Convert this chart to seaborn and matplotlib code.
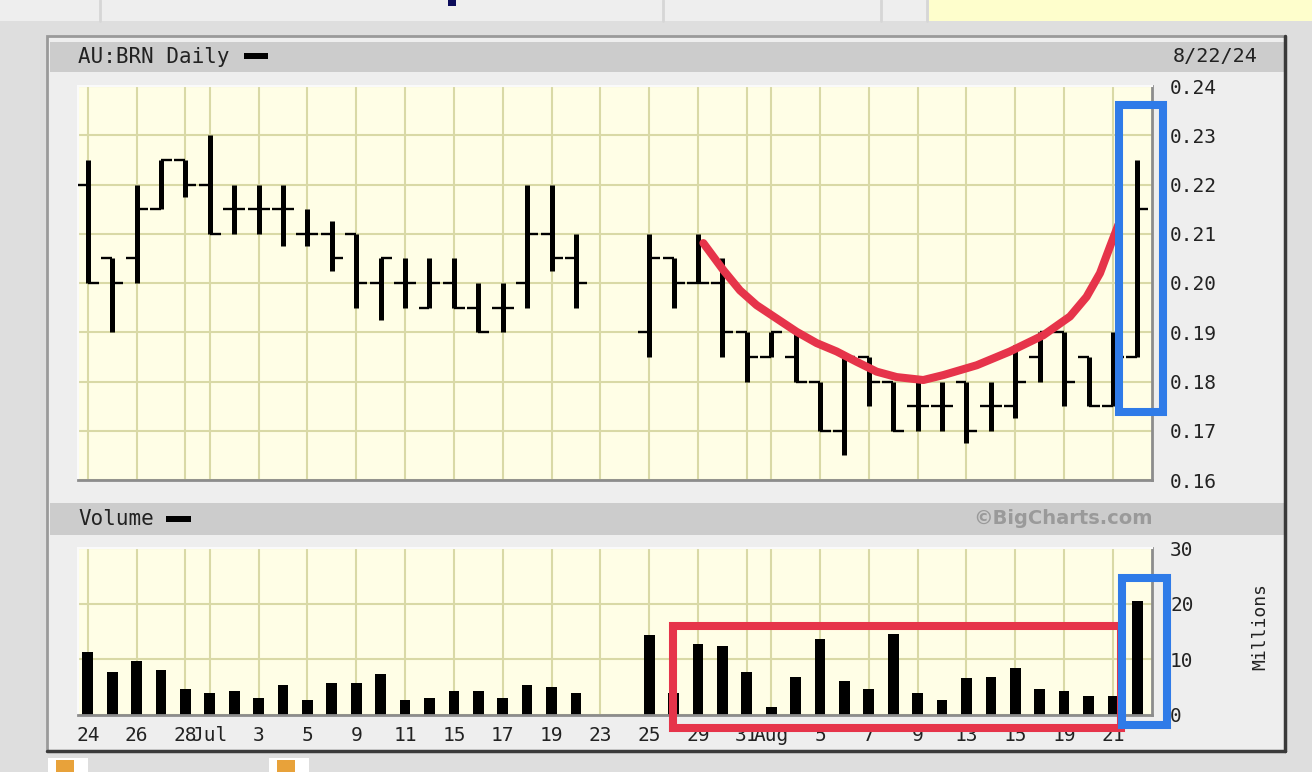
import numpy as np
import pandas as pd
import matplotlib
matplotlib.use("Agg")
import matplotlib.pyplot as plt
from matplotlib.patches import Rectangle
import seaborn as sns

# ============================
# Data (AU:BRN daily, 24 Jun - 22 Aug 2024)
# ============================
dates = pd.bdate_range("2024-06-24", "2024-08-22")   # 44 trading days

nan = np.nan
opens = [0.22, 0.205, 0.205, 0.215, 0.225, 0.22, 0.215, 0.215, 0.215, 0.21,
         0.21, 0.21, 0.20, 0.20, 0.195, 0.20, 0.195, 0.195, 0.20, 0.21,
         0.205, nan, nan, 0.19, 0.205, 0.20, 0.20, 0.19, 0.185, 0.185,
         0.18, 0.17, 0.185, 0.18, 0.175, 0.175, 0.18, 0.175, 0.175, 0.185,
         0.19, 0.185, 0.175, 0.185]
highs = [0.225, 0.205, 0.22, 0.225, 0.225, 0.23, 0.22, 0.22, 0.22, 0.215,
         0.2125, 0.21, 0.205, 0.205, 0.205, 0.205, 0.20, 0.20, 0.22, 0.22,
         0.21, nan, nan, 0.21, 0.205, 0.21, 0.205, 0.19, 0.19, 0.19,
         0.18, 0.185, 0.185, 0.18, 0.18, 0.18, 0.18, 0.18, 0.1875, 0.19,
         0.19, 0.185, 0.19, 0.225]
lows = [0.20, 0.19, 0.20, 0.215, 0.2175, 0.21, 0.21, 0.21, 0.2075, 0.2075,
        0.2025, 0.195, 0.1925, 0.195, 0.195, 0.195, 0.19, 0.19, 0.195, 0.2025,
        0.195, nan, nan, 0.185, 0.195, 0.20, 0.185, 0.18, 0.185, 0.18,
        0.17, 0.165, 0.175, 0.17, 0.17, 0.17, 0.1675, 0.17, 0.1725, 0.18,
        0.175, 0.175, 0.175, 0.185]
closes = [0.20, 0.20, 0.215, 0.225, 0.22, 0.21, 0.215, 0.215, 0.215, 0.21,
          0.205, 0.20, 0.205, 0.20, 0.20, 0.195, 0.19, 0.195, 0.21, 0.205,
          0.20, nan, nan, 0.205, 0.20, 0.20, 0.19, 0.185, 0.19, 0.18,
          0.17, 0.185, 0.18, 0.17, 0.175, 0.175, 0.17, 0.175, 0.18, 0.19,
          0.18, 0.175, 0.185, 0.215]
volume_m = [11.3, 7.7, 9.7, 8.1, 4.6, 3.9, 4.3, 3.1, 5.4, 2.7,
            5.8, 5.8, 7.4, 2.7, 3.1, 4.3, 4.3, 3.1, 5.4, 5.0,
            3.9, nan, nan, 14.3, 3.9, 12.8, 12.4, 7.7, 1.5, 6.9,
            13.6, 6.1, 4.6, 14.6, 3.9, 2.7, 6.6, 6.9, 8.5, 4.6,
            4.3, 3.4, 3.4, 20.5]

tick_dates = ["2024-06-24", "2024-06-26", "2024-06-28", "2024-07-01", "2024-07-03",
              "2024-07-05", "2024-07-09", "2024-07-11", "2024-07-15", "2024-07-17",
              "2024-07-19", "2024-07-23", "2024-07-25", "2024-07-29", "2024-07-31",
              "2024-08-01", "2024-08-05", "2024-08-07", "2024-08-09", "2024-08-13",
              "2024-08-15", "2024-08-19", "2024-08-21"]
tick_text = ["24", "26", "28", "Jul", "3", "5", "9", "11", "15", "17", "19", "23",
             "25", "29", "31", "Aug", "5", "7", "9", "13", "15", "19", "21"]

price_ticks = [0.16, 0.17, 0.18, 0.19, 0.20, 0.21, 0.22, 0.23, 0.24]
volume_ticks = [0, 10, 20, 30]

# hand-drawn markup on top of the chart (day index, price / millions)
curve_day = [25.22, 26.04, 26.72, 27.40, 28.22, 29.04, 29.86, 30.68, 31.50, 32.32,
             33.14, 34.23, 35.05, 36.42, 37.78, 39.15, 40.24, 40.92, 41.47, 41.88, 42.22]
curve_price = [0.2081, 0.2026, 0.1985, 0.1955, 0.1928, 0.1901, 0.1878, 0.1861, 0.1840,
               0.1820, 0.1809, 0.1803, 0.1813, 0.1833, 0.1861, 0.1894, 0.1932, 0.1972,
               0.2020, 0.2074, 0.2118]
blue_box_price = (42.25, 0.1738, 1.8, 0.0623)
blue_box_volume = (42.39, -1.8, 1.84, 26.5)
red_box_volume = (23.96, -2.33, 18.35, 18.33)

df = pd.DataFrame({"day": np.arange(len(dates)), "open": opens, "high": highs,
                   "low": lows, "close": closes, "volume": volume_m}).dropna()
tick_pos = [dates.get_loc(pd.Timestamp(d)) for d in tick_dates]

# ============================
# Style
# ============================
sns.set_theme(style="white")
plt.rcParams["font.family"] = ["DejaVu Sans Mono", "DejaVu Sans"]

GRID = "#d9d9a6"
PANEL = "#fffee6"
RED = "#e6344a"
BLUE = "#2f7be8"

W, H = 1312, 772
fig = plt.figure(figsize=(W / 100, H / 100), dpi=100)
fig.patch.set_facecolor("#dedede")

# page chrome and chart frame, drawn in pixel space
bg = fig.add_axes([0, 0, 1, 1], zorder=-5)
bg.set_xlim(0, W)
bg.set_ylim(H, 0)
bg.axis("off")
bg.add_patch(Rectangle((0, 0), W, 21, color="#eeeeee", lw=0))
bg.add_patch(Rectangle((929, 0), W - 929, 21, color="#fefecc", lw=0))
for sx in [100, 663, 881, 927]:
    bg.plot([sx, sx], [0, 21], color="#d6d6d6", lw=2)
bg.add_patch(Rectangle((448, 0), 8, 6, color="#0c0c5a", lw=0))
bg.add_patch(Rectangle((47, 36), 1238, 715, facecolor="#eeeeee", edgecolor="#9a9a9a", lw=2))
bg.plot([1285, 1285], [36, 751], color="#3a3a3a", lw=2.5)
bg.plot([47, 1285], [751, 751], color="#3a3a3a", lw=2.5)
bg.add_patch(Rectangle((50, 42), 1234, 30, color="#cccccc", lw=0))
bg.add_patch(Rectangle((50, 503), 1234, 32, color="#cccccc", lw=0))
bg.add_patch(Rectangle((244, 53), 24, 6, color="black", lw=0))
bg.add_patch(Rectangle((166, 516), 25, 6, color="black", lw=0))
for ix in [48, 269]:
    bg.add_patch(Rectangle((ix, 758), 40, 14, color="white", lw=0))
    bg.add_patch(Rectangle((ix + 8, 760), 18, 12, color="#e8a23a", lw=0))
bg.text(78, 57, "AU:BRN Daily", fontsize=15, va="center", ha="left", color="#222222")
bg.text(1258, 57, "8/22/24", fontsize=14.5, va="center", ha="right", color="#222222")
bg.text(78, 519, "Volume", fontsize=15, va="center", ha="left", color="#222222")
bg.text(1153, 519, "\u00a9BigCharts.com", fontsize=14, fontweight="bold",
        family="DejaVu Sans", va="center", ha="right", color="#9a9a9a")
bg.text(1260, 626, "Millions", fontsize=13, rotation=90, va="center", ha="center",
        color="#222222")


def panel(top, bottom):
    return fig.add_axes([78 / W, 1 - bottom / H, (1152 - 78) / W, (bottom - top) / H])


def style_panel(ax):
    ax.set_facecolor(PANEL)
    ax.set_xlim(-0.4, 43.6)
    ax.set_xticks(tick_pos)
    ax.grid(True, color=GRID, lw=1.5)
    ax.set_axisbelow(True)
    for side in ["top", "left"]:
        ax.spines[side].set_color("#fafafa")
        ax.spines[side].set_linewidth(1.5)
    for side in ["bottom", "right"]:
        ax.spines[side].set_color("#8c8c8c")
        ax.spines[side].set_linewidth(2)
    ax.yaxis.tick_right()
    ax.tick_params(axis="both", length=0, labelsize=14, colors="#222222")
    ax.tick_params(axis="y", pad=13)
    ax.tick_params(axis="x", pad=8)


# ============================
# Price panel (OHLC bars)
# ============================
ax_p = panel(86, 480)
style_panel(ax_p)
ax_p.vlines(df["day"], df["low"], df["high"], color="black", lw=3.6, zorder=3)
ax_p.hlines(df["open"], df["day"] - 0.45, df["day"], color="black", lw=1.7, zorder=3)
ax_p.hlines(df["close"], df["day"], df["day"] + 0.45, color="black", lw=1.7, zorder=3)
ax_p.set_ylim(0.16, 0.24)
ax_p.set_yticks(price_ticks)
ax_p.set_yticklabels([f"{t:.2f}" for t in price_ticks])
ax_p.set_xticklabels([])

ax_p.plot(curve_day, curve_price, color=RED, lw=5.8, solid_capstyle="round",
          solid_joinstyle="round", zorder=6)
x0, y0, bw, bh = blue_box_price
ax_p.add_patch(Rectangle((x0, y0), bw, bh, fill=False, edgecolor=BLUE, lw=5.8,
                         clip_on=False, zorder=7))

# ============================
# Volume panel
# ============================
ax_v = panel(548, 715)
sns.barplot(data=df, x="day", y="volume", native_scale=True, orient="x", width=0.44,
            color="black", saturation=1, errorbar=None, linewidth=0, ax=ax_v)
style_panel(ax_v)
ax_v.set_ylim(0, 30)
ax_v.set_yticks(volume_ticks)
ax_v.set_yticklabels([str(t) for t in volume_ticks])
ax_v.set_xticklabels(tick_text)
ax_v.set_xlabel("")
ax_v.set_ylabel("")

for (x0, y0, bw, bh), col in [(red_box_volume, RED), (blue_box_volume, BLUE)]:
    ax_v.add_patch(Rectangle((x0, y0), bw, bh, fill=False, edgecolor=col, lw=5.8,
                             clip_on=False, zorder=7))

fig.savefig("out.png", dpi=100)
